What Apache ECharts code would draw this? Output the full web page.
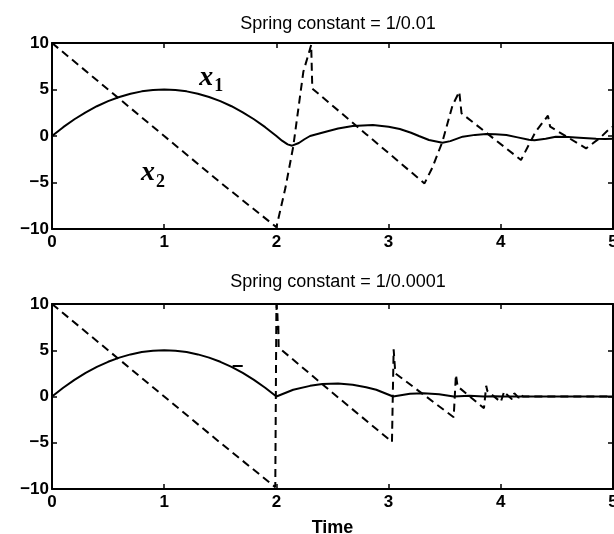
<!DOCTYPE html>
<html>
<head>
<meta charset="utf-8">
<script src="https://cdn.jsdelivr.net/npm/echarts@6/dist/echarts.min.js"></script>
<style>html,body{margin:0;padding:0;background:#fff}#c{width:614px;height:534px}</style>
</head>
<body>
<div id="c"></div>
<script>
// ---- data ----
const titles = ['Spring constant = 1/0.01', 'Spring constant = 1/0.0001'];
const xTicks = [0, 1, 2, 3, 4, 5];
const yTicks = [-10, -5, 0, 5, 10];
const xName = 'Time';

// top panel (k = 1/0.01)
const x1Top = [[0,0],[0.1,0.95],[0.2,1.8],[0.3,2.55],[0.4,3.2],[0.5,3.75],[0.6,4.2],[0.7,4.55],[0.8,4.8],[0.9,4.95],[1.0,5.0],[1.1,4.95],[1.2,4.8],[1.3,4.55],[1.4,4.2],[1.5,3.75],[1.6,3.2],[1.7,2.55],[1.8,1.8],[1.9,0.95],[2.0,0.0],[2.05,-0.5],[2.1,-0.9],[2.14,-1.04],[2.2,-0.75],[2.25,-0.35],[2.3,0.0],[2.44,0.46],[2.55,0.8],[2.68,1.07],[2.86,1.18],[3.0,1.0],[3.1,0.75],[3.2,0.35],[3.27,0.0],[3.36,-0.43],[3.48,-0.72],[3.55,-0.55],[3.66,-0.07],[3.77,0.12],[3.87,0.21],[3.95,0.2],[4.05,0.1],[4.15,-0.15],[4.25,-0.4],[4.3,-0.45],[4.4,-0.3],[4.49,-0.07],[4.6,-0.1],[4.7,-0.18],[4.85,-0.3],[4.93,-0.32],[5.0,-0.3]];
const x2Top = [[0,10],[0.5,5],[1,0],[1.5,-5],[2.0,-9.8],[2.08,-5.6],[2.15,-1.15],[2.24,6.9],[2.31,9.8],[2.32,5.1],[2.8,0.2],[3.32,-5.1],[3.39,-3.4],[3.48,-0.6],[3.57,3.3],[3.63,4.76],[3.65,2.44],[4.18,-2.58],[4.31,0.46],[4.42,2.18],[4.44,1.0],[4.76,-1.33],[4.88,-0.25],[4.98,0.9],[5.0,1.0]];

// bottom panel (k = 1/0.0001)
const x1Bot = [[0,0],[0.1,0.95],[0.2,1.8],[0.3,2.55],[0.4,3.2],[0.5,3.75],[0.6,4.2],[0.7,4.55],[0.8,4.8],[0.9,4.95],[1.0,5.0],[1.1,4.95],[1.2,4.8],[1.3,4.55],[1.4,4.2],[1.5,3.75],[1.6,3.2],[1.7,2.55],[1.8,1.8],[1.9,0.95],[2.0,0.0],[2.15,0.73],[2.3,1.15],[2.41,1.35],[2.55,1.4],[2.68,1.27],[2.8,1.0],[2.89,0.73],[3.04,0.0],[3.19,0.3],[3.31,0.36],[3.45,0.25],[3.58,0.0],[3.72,0.07],[3.85,0.0],[3.95,0.03],[4.02,0.0],[5.0,0.0]];
const x2Bot = [[0,10],[0.5,5],[1,0],[1.5,-5],[1.99,-9.8],[2.0,9.9],[2.005,8.2],[2.009,9.0],[2.013,7.2],[2.017,7.9],[2.02,5.3],[2.5,0.4],[3.03,-4.9],[3.045,5.1],[3.06,2.5],[3.58,-2.24],[3.6,2.36],[3.615,1.1],[3.85,-1.27],[3.87,1.16],[3.88,0.6],[4.0,-0.6],[4.03,0.55],[4.045,0.3],[4.1,-0.3],[4.12,0.35],[4.13,0.15],[4.16,-0.15],[4.17,0.2],[4.2,0.0],[5.0,0.0]];
const strayBot = [[1.61,3.3],[1.7,3.3]];

// label anchors (data coords)
const labelX1 = [1.42, 6.3];
const labelX2 = [0.9, -4.0];

// ---- chart ----
const chart = echarts.init(document.getElementById('c'), null, {renderer: 'canvas'});
const tickFont = {fontFamily: 'Liberation Sans', fontWeight: 'bold', fontSize: 17, color: '#000'};
const fmtY = v => v < 0 ? '\u2212' + Math.abs(v) : String(v);

function xAx(gi, bottom) {
  return {
    type: 'value', gridIndex: gi, min: xTicks[0], max: xTicks[xTicks.length - 1], interval: 1,
    position: bottom ? 'bottom' : 'top',
    axisLine: {show: true, onZero: false, lineStyle: {color: '#000', width: 2}},
    axisTick: {show: true, inside: true, length: 5, lineStyle: {color: '#000', width: 1.5}},
    axisLabel: bottom ? Object.assign({show: true, margin: 5}, tickFont) : {show: false},
    splitLine: {show: false},
    name: (bottom && gi === 1) ? xName : '', nameLocation: 'middle', nameGap: 30,
    nameTextStyle: Object.assign({}, tickFont, {fontSize: 18})
  };
}
function yAx(gi, left) {
  return {
    type: 'value', gridIndex: gi, min: yTicks[0], max: yTicks[yTicks.length - 1], interval: 5,
    position: left ? 'left' : 'right',
    axisLine: {show: true, onZero: false, lineStyle: {color: '#000', width: 2}},
    axisTick: {show: true, inside: true, length: 5, lineStyle: {color: '#000', width: 1.5}},
    axisLabel: left ? Object.assign({show: true, margin: 3, formatter: fmtY}, tickFont) : {show: false},
    splitLine: {show: false}
  };
}
const solid = {color: '#000', width: 2, type: 'solid'};
const dashed = {color: '#000', width: 2, type: [8, 5]};
function line(data, xi, yi, style) {
  return {type: 'line', xAxisIndex: xi, yAxisIndex: yi, data: data, showSymbol: false, symbol: 'none',
    lineStyle: style, animation: false, silent: true, z: 3};
}
const rich = {
  x: {fontFamily: 'Liberation Serif', fontStyle: 'italic', fontWeight: 'bold', fontSize: 28, color: '#000',
      textBorderWidth: 0, verticalAlign: 'bottom'},
  s: {fontFamily: 'Liberation Serif', fontWeight: 'bold', fontSize: 18, color: '#000',
      textBorderWidth: 0, verticalAlign: 'bottom', padding: [0, 0, -4, 1]}
};
function lbl(pt, txt) {
  return {type: 'scatter', xAxisIndex: 0, yAxisIndex: 0, symbolSize: 0, data: [pt], silent: true, animation: false,
    itemStyle: {color: '#000', opacity: 1},
    label: {show: true, position: 'inside', formatter: txt, rich: rich, color: '#000', opacity: 1,
      textBorderWidth: 0, textBorderColor: 'transparent'}};
}

chart.setOption({
  backgroundColor: '#fff',
  animation: false,
  title: [
    {text: titles[0], left: 333, top: 10, textAlign: 'center', textStyle: {fontFamily: 'Liberation Sans', fontWeight: 'normal', fontSize: 18, color: '#000'}},
    {text: titles[1], left: 333, top: 268, textAlign: 'center', textStyle: {fontFamily: 'Liberation Sans', fontWeight: 'normal', fontSize: 18, color: '#000'}}
  ],
  grid: [
    {left: 52, top: 43, width: 561, height: 186, outerBoundsMode: 'none', containLabel: false},
    {left: 52, top: 304, width: 561, height: 185, outerBoundsMode: 'none', containLabel: false}
  ],
  xAxis: [xAx(0, true), xAx(0, false), xAx(1, true), xAx(1, false)],
  yAxis: [yAx(0, true), yAx(0, false), yAx(1, true), yAx(1, false)],
  series: [
    line(x1Top, 0, 0, solid),
    line(x2Top, 0, 0, dashed),
    line(x1Bot, 2, 2, solid),
    line(x2Bot, 2, 2, dashed),
    line(strayBot, 2, 2, solid),
    lbl(labelX1, '{x|x}{s|1}'),
    lbl(labelX2, '{x|x}{s|2}')
  ]
});
</script>
</body>
</html>
